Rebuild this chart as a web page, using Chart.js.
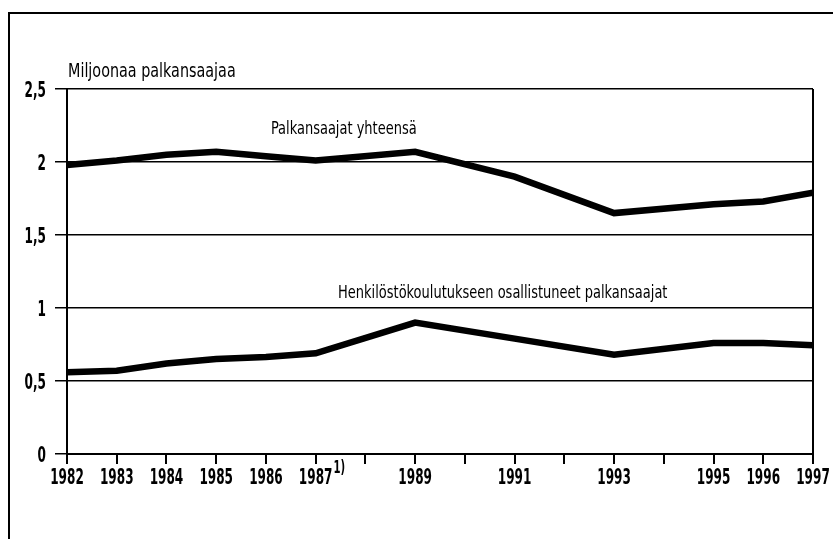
<!DOCTYPE html>
<html>
<head>
<meta charset="utf-8">
<script src="https://cdn.jsdelivr.net/npm/chart.js@4/dist/chart.umd.min.js"></script>
<style>
  html, body { margin: 0; padding: 0; background: #fff; }
  #wrap { position: relative; width: 833px; height: 539px; overflow: hidden; }
  #frame { position: absolute; left: 8px; top: 12px; width: 900px; height: 600px;
           border-left: 2px solid #000; border-top: 2px solid #000; pointer-events: none; }
</style>
</head>
<body>
<div id="wrap">
  <canvas id="chart" width="833" height="539"></canvas>
  <div id="frame"></div>
</div>
<script>
// vuodet ja arvot (milj. palkansaajaa)
const years = [1982, 1983, 1984, 1985, 1986, 1987, 1989, 1991, 1993, 1995, 1996, 1997];
const totalEmployees = [1.98, 2.01, 2.05, 2.07, 2.04, 2.01, 2.07, 1.90, 1.65, 1.71, 1.73, 1.79];
const trainedEmployees = [0.56, 0.57, 0.62, 0.65, 0.665, 0.69, 0.90, 0.79, 0.68, 0.76, 0.76, 0.745];
const yTicks = [0, 0.5, 1, 1.5, 2, 2.5];
const xTickLabels = [1982, 1983, 1984, 1985, 1986, 1987, 1989, 1991, 1993, 1995, 1996, 1997];
const footnoteYears = [1987];
const yTitle = 'Miljoonaa palkansaajaa';
const seriesLabels = [
    { text: 'Palkansaajat yhteensä', x: 1986.1, y: 2.22 },
    { text: 'Henkilöstökoulutukseen osallistuneet palkansaajat', x: 1987.45, y: 1.10 }
];

const FONT = "'DejaVu Sans Condensed', 'Liberation Sans Narrow', sans-serif";

const toPoints = vals => vals.map((v, i) => ({ x: years[i], y: v }));

// kapea teksti: vaakasuunnassa puristettu
function narrowText(ctx, text, x, y, font, sx, align) {
    ctx.save();
    ctx.font = font;
    ctx.textAlign = align;
    ctx.translate(x, y);
    ctx.scale(sx, 1);
    ctx.fillText(text, 0, 0);
    const w = ctx.measureText(text).width * sx;
    ctx.restore();
    return w;
}

const textPlugin = {
    id: 'texts',
    afterDraw(chart) {
        const ctx = chart.ctx;
        const xs = chart.scales.x, ys = chart.scales.y;
        const area = chart.chartArea;
        ctx.save();
        ctx.fillStyle = '#000';
        ctx.textBaseline = 'middle';

        narrowText(ctx, yTitle, area.left + 1, area.top - 17, '19px ' + FONT, 0.84, 'left');
        seriesLabels.forEach(l => {
            narrowText(ctx, l.text, xs.getPixelForValue(l.x), ys.getPixelForValue(l.y), '17px ' + FONT, 0.85, 'left');
        });

        // akselien numerot
        xs.ticks.forEach(t => {
            if (!xTickLabels.includes(t.value)) return;
            const px = xs.getPixelForValue(t.value);
            const w = narrowText(ctx, String(t.value), px, area.bottom + 24, 'bold 22px ' + FONT, 0.61, 'center');
            if (footnoteYears.includes(t.value)) {
                narrowText(ctx, '1)', px + w / 2 + 1, area.bottom + 15, 'bold 17px ' + FONT, 0.66, 'left');
            }
        });
        ys.ticks.forEach(t => {
            narrowText(ctx, String(t.value).replace('.', ','), area.left - 21, ys.getPixelForValue(t.value) + 2,
                'bold 22px ' + FONT, 0.61, 'right');
        });
        ctx.restore();
    }
};

new Chart(document.getElementById('chart'), {
    type: 'line',
    data: {
        datasets: [
            { data: toPoints(totalEmployees), borderColor: '#000', borderWidth: 6.5, pointRadius: 0, tension: 0 },
            { data: toPoints(trainedEmployees), borderColor: '#000', borderWidth: 6.5, pointRadius: 0, tension: 0 }
        ]
    },
    options: {
        responsive: false,
        animation: false,
        layout: { padding: { top: 89, right: 20, left: 0, bottom: 0 } },
        plugins: { legend: { display: false }, tooltip: { enabled: false } },
        scales: {
            x: {
                type: 'linear',
                min: 1982, max: 1997,
                afterFit: s => { s.height = 85; },
                afterBuildTicks: s => {
                    const t = [];
                    for (let y = 1982; y <= 1997; y++) t.push({ value: y });
                    s.ticks = t;
                },
                border: { display: true, color: '#000', width: 2 },
                grid: {
                    drawOnChartArea: true,
                    color: c => (c.tick && c.tick.value === 1997 ? '#000' : 'rgba(0,0,0,0)'),
                    lineWidth: 2,
                    tickColor: '#000',
                    tickWidth: 2,
                    tickLength: 10
                },
                ticks: { display: false }
            },
            y: {
                min: 0, max: 2.5,
                afterFit: s => { s.width = 67; },
                afterBuildTicks: s => { s.ticks = yTicks.map(v => ({ value: v })); },
                border: { display: true, color: '#000', width: 2 },
                grid: { color: '#000', lineWidth: 1.5, tickLength: 12, tickColor: '#000' },
                ticks: { display: false }
            }
        }
    },
    plugins: [textPlugin]
});
</script>
</body>
</html>
